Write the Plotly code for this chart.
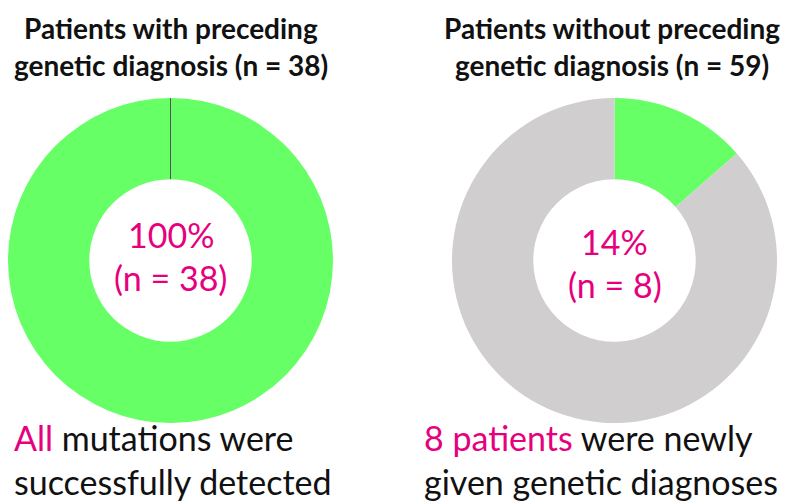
import plotly.graph_objects as go

# Data
labels = ["Mutation detected / diagnosed", "No genetic diagnosis"]
with_preceding = [38, 0]
without_preceding = [8, 51]
title_line1 = ["Patients with preceding", "Patients without preceding"]
title_line2 = ["genetic diagnosis (n = 38)", "genetic diagnosis (n = 59)"]
center_pct = ["100%", "14%"]
center_n = ["(n = 38)", "(n = 8)"]
bottom_hl = ["All", "8 patients"]
bottom_rest1 = [" mutations were", " were newly"]
bottom_line2 = ["successfully detected", "given genetic diagnoses"]

GREEN = "#66FF66"
GREY = "#D0CECE"
PINK = "#E6007E"
FONT = "Lato, Calibri, sans-serif"

W, H = 792, 504
domains = [
    dict(x=[8 / W, 333 / W], y=[1 - 423 / H, 1 - 98 / H]),
    dict(x=[452 / W, 777 / W], y=[1 - 423 / H, 1 - 98 / H]),
]

fig = go.Figure()
for vals, dom in zip([with_preceding, without_preceding], domains):
    fig.add_trace(go.Pie(
        labels=labels, values=vals, hole=0.5, sort=False,
        direction="clockwise", rotation=0,
        marker=dict(colors=[GREEN, GREY], line=dict(width=0)),
        textinfo="none", hoverinfo="label+value+percent",
        domain=dom, showlegend=False,
    ))


def ann(x, ypx, text, size, color, xanchor="center"):
    return dict(x=x, y=1 - ypx / H, xref="paper", yref="paper", text=text,
                showarrow=False, xanchor=xanchor, yanchor="middle",
                align="left" if xanchor == "left" else "center",
                font=dict(family=FONT, size=size, color=color))


annotations = []
center_y = [(234, 277), (241, 284)]
title_x = [(8 + 333) / 2 / W, 612 / W]
for i, dom in enumerate(domains):
    cx = (dom["x"][0] + dom["x"][1]) / 2
    annotations.append(ann(title_x[i], 28, "<b>" + title_line1[i] + "</b>", 28, "#111111"))
    annotations.append(ann(title_x[i], 65, "<b>" + title_line2[i] + "</b>", 28, "#111111"))
    annotations.append(ann(cx, center_y[i][0], center_pct[i], 34, PINK))
    annotations.append(ann(cx, center_y[i][1], center_n[i], 34, PINK))

bottom_x = [12 / W, 422 / W]
for i in range(2):
    annotations.append(ann(
        bottom_x[i], 459,
        "<span style='color:%s'>%s</span>%s<br>%s" % (PINK, bottom_hl[i],
                                                      bottom_rest1[i], bottom_line2[i]),
        34, "#111111", xanchor="left"))

# thin separator at 12 o'clock in the full (100%) donut
d = domains[0]
cx = (d["x"][0] + d["x"][1]) / 2
cy = (d["y"][0] + d["y"][1]) / 2
r = (d["y"][1] - d["y"][0]) / 2
shapes = [dict(type="line", xref="paper", yref="paper",
               x0=cx, x1=cx, y0=cy + r * 0.5, y1=cy + r,
               line=dict(color="#555555", width=1))]

fig.update_layout(
    width=W, height=H, margin=dict(l=0, r=0, t=0, b=0),
    paper_bgcolor="white", plot_bgcolor="white",
    annotations=annotations, shapes=shapes,
)
fig.write_html("out.html", config={"displayModeBar": False},
               post_script="document.body.style.margin='0';document.body.style.overflow='hidden';")
